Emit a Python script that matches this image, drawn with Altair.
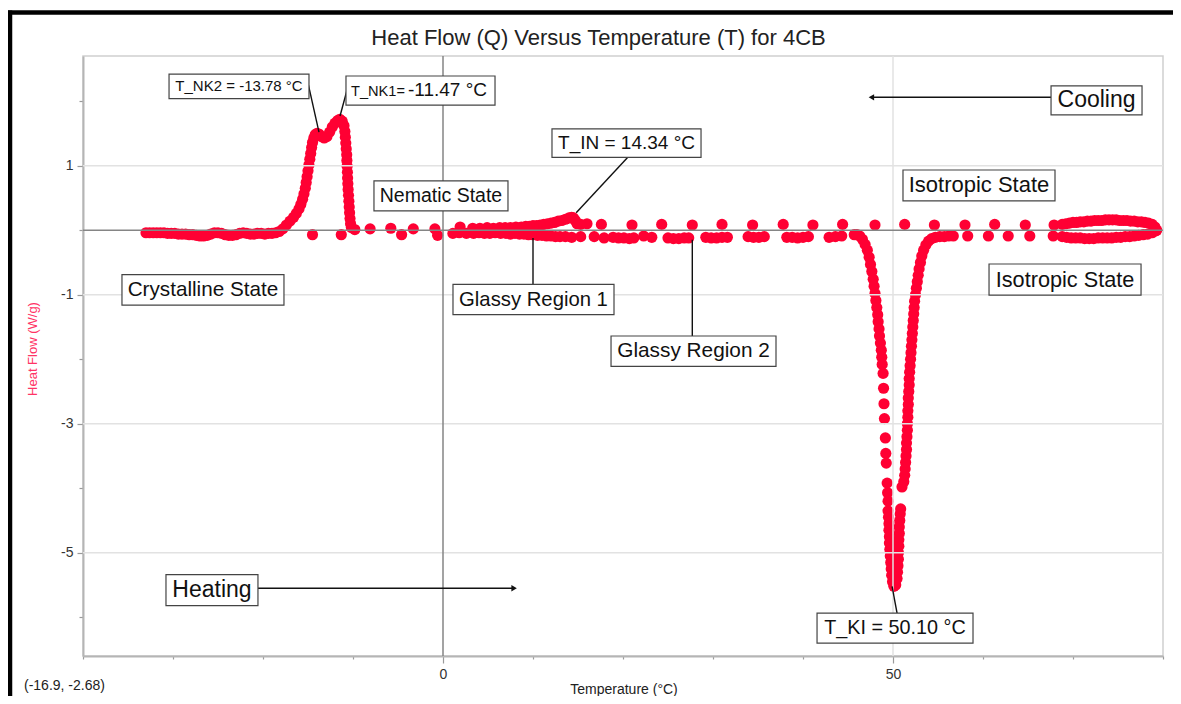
import altair as alt
import pandas as pd

FONT = "Liberation Sans"

# ---------------- data (T in °C, Q in W/g) ----------------
# cooling sweep
loop_top_t = [79.3, 79.1, 78.8, 78.4, 78.0, 77.6, 77.2, 76.8, 76.4, 76.0, 75.6, 75.2, 74.8, 74.4,
              74.0, 73.6, 73.2, 72.8, 72.4, 72.0, 71.6, 71.2, 70.8, 70.4, 70.0, 69.6, 69.2, 68.8]
loop_top_q = [0.00, 0.05, 0.09, 0.11, 0.12, 0.13, 0.13, 0.14, 0.14, 0.15, 0.15, 0.15, 0.16, 0.16,
              0.16, 0.16, 0.15, 0.15, 0.15, 0.14, 0.14, 0.13, 0.13, 0.12, 0.12, 0.11, 0.10, 0.09]

cool_sparse_t = [67.9, 64.7, 61.3, 58.0, 54.6, 51.3, 48.0, 44.4, 41.1, 37.8, 34.4, 31.0, 27.7, 24.3,
                 21.0, 17.6, 16.0, 15.3, 1.9, -0.9, -3.3, -5.8, -8.1, -9.8]
cool_sparse_q = [0.08, 0.08, 0.09, 0.08, 0.08, 0.09, 0.08, 0.09, 0.08, 0.09, 0.08, 0.09, 0.08, 0.09,
                 0.08, 0.09, 0.10, 0.09, 0.05, 0.02, 0.02, 0.03, 0.02, 0.01]

tin_band_t = [14.9, 14.7, 14.5, 14.3, 14.0, 13.6, 13.2, 12.8, 12.4, 12.0, 11.6, 11.2, 10.8, 10.4,
              10.0, 9.6, 9.2, 8.7, 8.1, 7.5, 6.9, 6.3, 5.6, 4.9, 4.1, 3.3]
tin_band_q = [0.10, 0.15, 0.19, 0.20, 0.19, 0.17, 0.15, 0.14, 0.12, 0.11, 0.10, 0.09, 0.08, 0.07,
              0.07, 0.06, 0.06, 0.05, 0.05, 0.04, 0.04, 0.04, 0.03, 0.04, 0.03, 0.03]

peak_t = [-10.18, -10.27, -10.33, -10.38, -10.42, -10.46, -10.5, -10.54, -10.57, -10.6, -10.62,
          -10.65, -10.68, -10.7, -10.75, -10.8, -10.85, -10.9, -11.0, -11.2, -11.47, -11.7, -12.0,
          -12.3, -12.6, -12.9, -13.2, -13.5, -13.78, -14.0, -14.2, -14.35, -14.5, -14.6, -14.7,
          -14.8, -14.9, -15.0, -15.1, -15.2, -15.3, -15.45, -15.6, -15.8, -16.0, -16.3, -16.6,
          -17.0, -17.4, -17.8, -18.2, -18.6]
peak_q = [0.04, 0.10, 0.18, 0.27, 0.36, 0.45, 0.54, 0.63, 0.72, 0.81, 0.90, 0.99, 1.08, 1.17,
          1.26, 1.35, 1.44, 1.53, 1.62, 1.69, 1.72, 1.70, 1.66, 1.60, 1.52, 1.45, 1.43, 1.45,
          1.49, 1.50, 1.48, 1.43, 1.36, 1.28, 1.19, 1.10, 1.01, 0.92, 0.83, 0.74, 0.65, 0.56,
          0.48, 0.40, 0.33, 0.26, 0.20, 0.14, 0.08, 0.02, -0.02, -0.04]

cryst_t = [-19.0, -19.4, -19.8, -20.2, -20.6, -21.0, -21.4, -21.8, -22.2, -22.6, -23.0, -23.4,
           -23.8, -24.2, -24.6, -25.0, -25.4, -25.8, -26.2, -26.6, -27.0, -27.4, -27.8, -28.2,
           -28.6, -29.0, -29.4, -29.8, -30.2, -30.6, -31.0, -31.4, -31.8, -32.2, -32.6, -33.0]
cryst_q = [-0.05, -0.05, -0.06, -0.05, -0.05, -0.06, -0.06, -0.05, -0.04, -0.05, -0.07, -0.08,
           -0.08, -0.07, -0.05, -0.04, -0.04, -0.06, -0.08, -0.09, -0.09, -0.08, -0.07, -0.07,
           -0.06, -0.06, -0.06, -0.05, -0.05, -0.05, -0.04, -0.04, -0.04, -0.04, -0.04, -0.04]

# heating sweep
heat_sparse_t = [-14.5, -11.3, -4.6, -0.6, 16.8, 17.9, 18.9, 19.5, 20.1, 20.7, 21.2, 22.3, 23.2,
                 25.0, 25.6, 26.2, 26.8, 27.3, 29.2, 29.8, 30.4, 31.0, 31.6, 33.9, 34.5, 35.1,
                 35.7, 38.2, 38.8, 39.4, 40.0, 40.6, 42.9, 43.6, 44.3, 58.3, 60.6, 62.8, 65.2, 67.8]
heat_sparse_q = [-0.07, -0.07, -0.07, -0.08, -0.10, -0.12, -0.11, -0.12, -0.12, -0.13, -0.12,
                 -0.09, -0.11, -0.12, -0.13, -0.13, -0.12, -0.12, -0.11, -0.12, -0.12, -0.11,
                 -0.11, -0.10, -0.11, -0.11, -0.10, -0.11, -0.11, -0.12, -0.11, -0.10, -0.11,
                 -0.10, -0.09, -0.09, -0.09, -0.09, -0.09, -0.09]

glassy_t = [1.1, 1.8, 2.6, 3.4, 4.0, 4.6, 5.2, 5.8, 6.4, 7.0, 7.5, 8.0, 8.5, 9.0, 9.5, 10.0,
            10.5, 11.0, 11.5, 12.0, 12.5, 13.0, 13.6, 14.3, 15.3]
glassy_q = [-0.05, -0.04, -0.05, -0.05, -0.04, -0.05, -0.05, -0.04, -0.05, -0.05, -0.06, -0.05,
            -0.06, -0.06, -0.07, -0.07, -0.08, -0.08, -0.09, -0.09, -0.10, -0.10, -0.10, -0.11,
            -0.10]

dip_left_t = [45.7, 46.0, 46.3, 46.6, 46.9, 47.15, 47.35, 47.5, 47.65, 47.8, 47.9, 48.0, 48.1,
              48.2, 48.3, 48.35, 48.45, 48.5, 48.6, 48.7, 48.75, 48.8, 48.9, 48.95, 49.0, 49.05,
              49.15, 49.2, 49.25, 49.35, 49.4, 49.45]
dip_left_q = [-0.07, -0.07, -0.09, -0.14, -0.22, -0.31, -0.42, -0.53, -0.64, -0.76, -0.87, -0.98,
              -1.09, -1.20, -1.31, -1.42, -1.53, -1.64, -1.75, -1.86, -1.97, -2.08, -2.22, -2.45,
              -2.69, -2.92, -3.22, -3.46, -3.61, -3.92, -4.07, -4.20]

dip_bottom_t = [49.45, 49.5, 49.55, 49.55, 49.6, 49.6, 49.65, 49.7, 49.75, 49.8, 49.85, 49.95,
                50.1, 50.3, 50.45, 50.5, 50.55, 50.6, 50.6, 50.65, 50.65, 50.7, 50.7, 50.75,
                50.8, 50.85]
dip_bottom_q = [-4.35, -4.45, -4.55, -4.65, -4.75, -4.85, -4.95, -5.05, -5.15, -5.25, -5.35,
                -5.45, -5.52, -5.50, -5.40, -5.30, -5.20, -5.10, -5.00, -4.90, -4.80, -4.70,
                -4.60, -4.50, -4.40, -4.32]

dip_right_t = [51.0, 51.2, 51.3, 51.35, 51.4, 51.45, 51.5, 51.5, 51.55, 51.6, 51.6, 51.65, 51.65,
               51.7, 51.7, 51.75, 51.8, 51.8, 51.85, 51.9, 51.95, 52.0, 52.05, 52.1, 52.15, 52.2,
               52.25, 52.3, 52.35, 52.4, 52.5, 52.6, 52.7, 52.8, 52.9, 53.05, 53.2, 53.4, 53.65,
               53.95, 54.3, 54.7, 55.2, 55.7, 56.2, 56.7]
dip_right_q = [-3.98, -3.90, -3.80, -3.70, -3.60, -3.50, -3.40, -3.30, -3.20, -3.10, -3.00, -2.90,
               -2.80, -2.70, -2.60, -2.50, -2.40, -2.30, -2.20, -2.10, -2.00, -1.90, -1.80, -1.70,
               -1.60, -1.50, -1.40, -1.30, -1.20, -1.10, -1.00, -0.90, -0.80, -0.70, -0.60, -0.50,
               -0.40, -0.31, -0.23, -0.17, -0.13, -0.11, -0.10, -0.10, -0.09, -0.09]

loop_bot_t = [68.8, 69.3, 69.8, 70.3, 70.8, 71.3, 71.8, 72.3, 72.8, 73.3, 73.8, 74.3, 74.8, 75.3,
              75.8, 76.3, 76.8, 77.3, 77.8, 78.3, 78.8, 79.2]
loop_bot_q = [-0.10, -0.11, -0.12, -0.12, -0.12, -0.13, -0.13, -0.13, -0.12, -0.12, -0.12, -0.12,
              -0.11, -0.11, -0.10, -0.10, -0.09, -0.08, -0.07, -0.06, -0.04, -0.01]

# ---------------- axes / grid values ----------------
x_tick_values = [-40, -30, -20, -10, 0, 10, 20, 30, 40, 50, 60, 70, 80]
x_label_values = [0, 50]
y_tick_values = [2, 1, 0, -1, -2, -3, -4, -5, -6]
y_label_values = [1, -1, -3, -5]
x_grid_values = [50]
y_grid_values = [1, -1, -3, -5]

# ---------------- annotations ----------------
box_text = ["T_NK2 = -13.78 °C", "", "T_IN = 14.34 °C", "Nematic State", "Cooling",
            "Isotropic State", "Crystalline State", "Glassy Region 1", "Glassy Region 2",
            "Isotropic State", "Heating", "T_KI = 50.10 °C"]
box_x1 = [-30.44, -10.78, 12.11, -7.67, 67.56, 51.11, -35.67, 1.11, 18.67, 60.67, -30.78, 41.56]
box_x2 = [-14.89, 5.78, 28.67, 7.22, 77.67, 68.00, -17.67, 19.00, 37.00, 77.56, -20.56, 58.89]
box_y1 = [2.04, 1.94, 1.13, 0.298, 1.786, 0.453, -1.16, -1.31, -2.11, -1.005, -5.82, -6.40]
box_y2 = [2.42, 2.39, 1.57, 0.763, 2.236, 0.933, -0.69, -0.84, -1.64, -0.524, -5.34, -5.935]
box_fs = [15, 15, 19, 19.5, 23, 22, 20.7, 20.3, 20.8, 21.7, 23, 19.8]

nk1_text = ["T_NK1=", "-11.47 °C"]
nk1_x = [-10.22, -3.9]
nk1_fs = [14.6, 19]

conn_x1 = [-14.95, -10.67, 20.56, 10.0, 27.7, 49.9]
conn_y1 = [2.25, 2.17, 1.135, -0.84, -1.64, -5.52]
conn_x2 = [-13.78, -11.44, 14.8, 10.0, 27.7, 50.45]
conn_y2 = [1.52, 1.77, 0.27, -0.12, -0.15, -5.935]

arrow_x1 = [67.56, -20.56]
arrow_x2 = [47.6, 7.9]
arrow_y = [2.06, -5.55]
arrow_shape = ["triangle-left", "triangle-right"]

# ---------------- build tables ----------------
segments = [(loop_top_t, loop_top_q), (cool_sparse_t, cool_sparse_q), (tin_band_t, tin_band_q),
            (peak_t, peak_q), (cryst_t, cryst_q), (heat_sparse_t, heat_sparse_q),
            (glassy_t, glassy_q), (dip_left_t, dip_left_q), (dip_bottom_t, dip_bottom_q),
            (dip_right_t, dip_right_q), (loop_bot_t, loop_bot_q)]
rows = []
for ts, qs in segments:
    for t, q in zip(ts, qs):
        rows.append({"T": t, "Q": q})
points = pd.DataFrame(rows)

boxes = pd.DataFrame({"label": box_text, "x1": box_x1, "x2": box_x2, "y1": box_y1,
                      "y2": box_y2, "fs": box_fs})
boxes["xc"] = (boxes.x1 + boxes.x2) / 2
boxes["yc"] = (boxes.y1 + boxes.y2) / 2
nk1 = pd.DataFrame({"label": nk1_text, "x": nk1_x, "fs": nk1_fs, "y": [2.073, 2.073]})
conns = pd.DataFrame({"x1": conn_x1, "y1": conn_y1, "x2": conn_x2, "y2": conn_y2})
arrows = pd.DataFrame({"x1": arrow_x1, "x2": arrow_x2, "y": arrow_y, "shape": arrow_shape})
zero_df = pd.DataFrame({"v": [0]})
xgrid_df = pd.DataFrame({"v": x_grid_values})
ygrid_df = pd.DataFrame({"v": y_grid_values})

xs = alt.Scale(domain=[-40, 80], nice=False, zero=False)
ys = alt.Scale(domain=[-6.6, 2.7], nice=False, zero=False)

x_expr = " || ".join(f"datum.value == {v}" for v in x_label_values)
y_expr = " || ".join(f"datum.value == {v}" for v in y_label_values)

x_axis = alt.Axis(values=x_tick_values, labelExpr=f"({x_expr}) ? '' + datum.value : ''",
                  title=None,
                  tickSize={"condition": {"test": x_expr, "value": 7}, "value": 3})
y_axis = alt.Axis(values=y_tick_values, labelExpr=f"({y_expr}) ? '' + datum.value : ''",
                  title=None,
                  tickSize={"condition": {"test": y_expr, "value": 6}, "value": 4})

grid_v = alt.Chart(xgrid_df).mark_rule(color="#e2e2e2", strokeWidth=1.5).encode(
    x=alt.X("v:Q", scale=xs))
grid_h = alt.Chart(ygrid_df).mark_rule(color="#e2e2e2", strokeWidth=1.5).encode(
    y=alt.Y("v:Q", scale=ys))
zero_v = alt.Chart(zero_df).mark_rule(color="#858585", strokeWidth=1.5).encode(
    x=alt.X("v:Q", scale=xs))
zero_h = alt.Chart(zero_df).mark_rule(color="#858585", strokeWidth=1.5).encode(
    y=alt.Y("v:Q", scale=ys))

dots = alt.Chart(points).mark_circle(size=125, color="#ff0033", opacity=1).encode(
    x=alt.X("T:Q", scale=xs, axis=x_axis),
    y=alt.Y("Q:Q", scale=ys, axis=y_axis))

connectors = alt.Chart(conns).mark_rule(color="#111", strokeWidth=1.4).encode(
    x=alt.X("x1:Q", scale=xs), y=alt.Y("y1:Q", scale=ys), x2="x2:Q", y2="y2:Q")

arrow_lines = alt.Chart(arrows).mark_rule(color="#111", strokeWidth=1.4).encode(
    x=alt.X("x1:Q", scale=xs), x2="x2:Q", y=alt.Y("y:Q", scale=ys))

arrow_heads = alt.Chart(arrows).mark_point(filled=True, size=40, color="#111", opacity=1).encode(
    x=alt.X("x2:Q", scale=xs), y=alt.Y("y:Q", scale=ys),
    shape=alt.Shape("shape:N", scale=None))

box_rects = alt.Chart(boxes).mark_rect(fill="white", stroke="#444", strokeWidth=1.2).encode(
    x=alt.X("x1:Q", scale=xs), x2="x2:Q", y=alt.Y("y1:Q", scale=ys), y2="y2:Q")

box_labels = alt.Chart(boxes).mark_text(font=FONT, color="#111", align="center",
                                         baseline="middle").encode(
    x=alt.X("xc:Q", scale=xs), y=alt.Y("yc:Q", scale=ys),
    text="label:N", size=alt.Size("fs:Q", scale=None))

nk1_labels = alt.Chart(nk1).mark_text(font=FONT, color="#111", align="left",
                                       baseline="alphabetic").encode(
    x=alt.X("x:Q", scale=xs), y=alt.Y("y:Q", scale=ys),
    text="label:N", size=alt.Size("fs:Q", scale=None))

title_text = alt.Chart(zero_df).mark_text(
    text="Heat Flow (Q) Versus Temperature (T) for 4CB", font=FONT, fontSize=22,
    color="#222", align="center", baseline="alphabetic").encode(
    x=alt.value(515.5), y=alt.value(-11))

x_title = alt.Chart(zero_df).mark_text(
    text="Temperature  (°C)", font=FONT, fontSize=14, color="#222", align="center",
    baseline="middle").encode(x=alt.value(541), y=alt.value(634))

y_title = alt.Chart(zero_df).mark_text(
    text="Heat Flow  (W/g)", font=FONT, fontSize=13, color="#ff3366", align="center",
    baseline="middle", angle=270).encode(x=alt.value(-50), y=alt.value(293))

readout = alt.Chart(zero_df).mark_text(
    text="(-16.9, -2.68)", font=FONT, fontSize=14, color="#222", align="left",
    baseline="middle").encode(x=alt.value(-59), y=alt.value(630))

frame_left = alt.Chart(zero_df).mark_rule(color="black", strokeWidth=4.5).encode(
    x=alt.value(-73), y=alt.value(-45.5), y2=alt.value(660))
frame_top = alt.Chart(zero_df).mark_rule(color="black", strokeWidth=4.5).encode(
    x=alt.value(-75.2), x2=alt.value(1110), y=alt.value(-43.5))

chart = alt.layer(
    dots, grid_v, grid_h, zero_v, zero_h, connectors, arrow_lines, arrow_heads, box_rects,
    box_labels, nk1_labels, title_text, x_title, y_title, readout, frame_left, frame_top
).properties(
    width=1080, height=600,
    autosize=alt.AutoSizeParams(type="none"),
    padding={"left": 75, "top": 48, "right": 10, "bottom": 40},
).configure_axis(
    grid=False, labelFont=FONT, labelFontSize=14, labelColor="#333", labelPadding=4,
    tickColor="#9a9a9a", tickWidth=1.2, domainColor="#b5b5b5", domainWidth=2,
    labelOverlap=False
).configure_view(stroke="#cfcfcf", strokeWidth=1.5)

chart.save("out.html", embed_options={"renderer": "svg", "actions": False})
